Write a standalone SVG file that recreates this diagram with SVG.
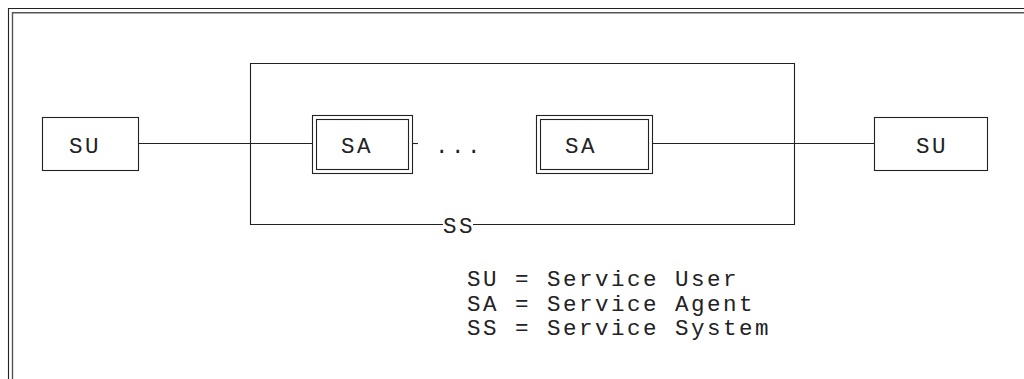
<svg xmlns="http://www.w3.org/2000/svg" width="1024" height="379" viewBox="0 0 1024 379">
<style>
.b{fill:#fff;stroke:#222;stroke-width:1.1}
.l{fill:none;stroke:#222;stroke-width:1.1}
.t{font-family:"Liberation Mono","Courier New",monospace;font-size:22.5px;letter-spacing:2.5px;fill:#222}
.m{text-anchor:middle}
</style>
<rect x="0" y="0" width="1024" height="379" fill="#fff"/>
<g id="frame">
<path class="l" d="M8.5,400 V8.5 H1100"/>
<path d="M12.5,400 V12.8 H1100" fill="none" stroke="#555" stroke-width="1.4"/>
</g>
<g id="connectors">
<line class="l" x1="138" y1="143.5" x2="312" y2="143.5"/>
<line class="l" x1="412" y1="143.5" x2="418" y2="143.5"/>
<line class="l" x1="652" y1="143.5" x2="874" y2="143.5"/>
</g>
<g id="ss">
<path class="l" d="M443,224.5 H250.5 V63.5 H794.5 V224.5 H473"/>
<text class="t m" x="459" y="233">SS</text>
</g>
<g id="su1">
<rect class="b" x="42.5" y="117.5" width="96" height="53"/>
<text class="t m" x="85" y="153">SU</text>
</g>
<g id="sa1">
<rect class="b" x="312.5" y="115.5" width="100" height="58"/>
<rect class="b" x="316.5" y="119.5" width="92" height="50"/>
<text class="t m" x="357" y="153">SA</text>
</g>
<g id="dots">
<text class="t m" x="459" y="153">...</text>
</g>
<g id="sa2">
<rect class="b" x="536.5" y="115.5" width="116" height="58"/>
<rect class="b" x="540.5" y="119.5" width="108" height="50"/>
<text class="t m" x="581" y="153">SA</text>
</g>
<g id="su2">
<rect class="b" x="874.5" y="117.5" width="113" height="53"/>
<text class="t m" x="932" y="153">SU</text>
</g>
<g id="legend">
<text class="t" x="467" y="286">SU = Service User</text>
<text class="t" x="467" y="310.5">SA = Service Agent</text>
<text class="t" x="467" y="335">SS = Service System</text>
</g>
</svg>
